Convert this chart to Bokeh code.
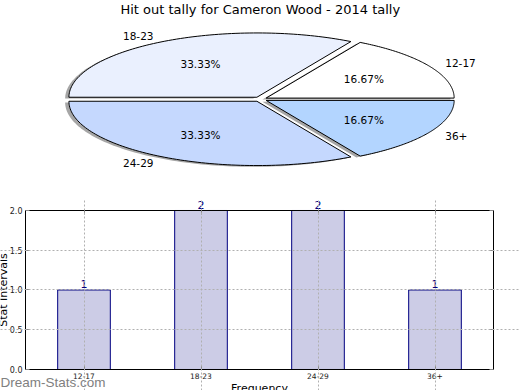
import numpy as np
from bokeh.plotting import figure
from bokeh.models import (Range1d, ColumnDataSource, LabelSet, Label, FixedTicker,
                          NumeralTickFormatter, LinearAxis, CustomJSTickFormatter)
from bokeh.layouts import column
from bokeh.core.properties import value
from bokeh.embed import file_html
from bokeh.resources import INLINE

# ---------------- data ----------------
title_text = "Hit out tally for Cameron Wood - 2014 tally"
categories = ["12-17", "18-23", "24-29", "36+"]
tallies = [1, 2, 2, 1]
pie_colors = ["#ffffff", "#eaf0fe", "#c5d8fe", "#b3d5ff"]
y_ticks = [0.0, 0.5, 1.0, 1.5, 2.0]
x_label = "Frequency"
y_label = "Stat Intervals"
watermark = "Dream-Stats.com"

FONT = "DejaVu Sans"
EXPLODE = 0.036
SHADOW_DX, SHADOW_DY = -0.02, -0.02

total = float(sum(tallies))
fracs = [t / total for t in tallies]
starts = np.cumsum([0.0] + fracs[:-1]) * 2 * np.pi
ends = starts + np.array(fracs) * 2 * np.pi

# ---------------- pie ----------------
p1 = figure(width=520, height=198, x_range=Range1d(-1.3819, 1.3840),
            y_range=Range1d(-1.5436, 1.5358), output_backend="svg",
            toolbar_location=None, min_border=0)
p1.axis.visible = False
p1.grid.visible = False
p1.outline_line_color = None

wxs, wys, sxs, sys_ = [], [], [], []
lx, ly, ltxt, lalign = [], [], [], []
px, py, ptxt = [], [], []
for cat, frac, a0, a1 in zip(categories, fracs, starts, ends):
    mid = 0.5 * (a0 + a1)
    ox, oy = EXPLODE * np.cos(mid), EXPLODE * np.sin(mid)
    th = np.linspace(a0, a1, 90)
    xs = np.concatenate([[ox], ox + np.cos(th), [ox]])
    ys = np.concatenate([[oy], oy + np.sin(th), [oy]])
    wxs.append(list(xs)); wys.append(list(ys))
    sxs.append(list(xs + SHADOW_DX)); sys_.append(list(ys + SHADOW_DY))
    xt = ox + 1.1 * np.cos(mid)
    lx.append(xt); ly.append(oy + 1.1 * np.sin(mid)); ltxt.append(cat)
    lalign.append("left" if xt > 0 else "right")
    px.append(ox + 0.6 * np.cos(mid)); py.append(oy + 0.6 * np.sin(mid))
    ptxt.append("%.2f%%" % (frac * 100))

p1.patches(sxs, sys_, fill_color="#4d4d4d", fill_alpha=0.5, line_color=None)
p1.patches(wxs, wys, fill_color=pie_colors, line_color="black", line_width=1)
p1.text(x=lx, y=ly, text=ltxt, text_align=lalign, text_baseline="middle",
        text_font=value(FONT), text_font_size="10.5px", text_color="black")
p1.text(x=px, y=py, text=ptxt, text_align="center", text_baseline="middle",
        text_font=value(FONT), text_font_size="10.5px", text_color="black")
p1.add_layout(Label(x=0.0, y=1.5124, text=title_text, text_align="center",
                    text_baseline="top", text_font=FONT, text_font_size="13px",
                    text_color="black"))

# ---------------- bars ----------------
n = len(categories)
y_max = max(y_ticks)
x_centers = [i + 0.5 for i in range(n)]
p2 = figure(width=520, height=192, x_range=Range1d(-0.21368, n + 0.23077),
            y_range=Range1d(-0.2642, 2.1509), output_backend="svg",
            toolbar_location=None, min_border=0)
p2.outline_line_color = None
src = ColumnDataSource(dict(x=x_centers, val=tallies, txt=[str(v) for v in tallies]))
p2.vbar(x="x", top="val", width=0.45, source=src, fill_color="#cccce6",
        line_color="#000080", line_width=1)

for g, b in ((p2.xgrid[0], (0, y_max)), (p2.ygrid[0], (0, n))):
    g.grid_line_color = "#b0b0b0"
    g.grid_line_dash = "2 2"
    g.grid_line_width = 1
    g.level = "overlay"
    g.bounds = b
p2.xgrid[0].ticker = FixedTicker(ticks=x_centers)
p2.ygrid[0].ticker = FixedTicker(ticks=[t for t in y_ticks if 0 < t < y_max])

p2.add_layout(LabelSet(x="x", y="val", text="txt", source=src, text_align="center",
                       text_baseline="alphabetic", text_color="#000080",
                       text_font=value(FONT), text_font_size="11px", y_offset=1.5))

xa = p2.xaxis[0]
xa.ticker = FixedTicker(ticks=x_centers)
xa.major_label_overrides = {c: lab for c, lab in zip(x_centers, categories)}
xa.fixed_location = 0
xa.bounds = (0, n)
xa.major_label_text_font_size = "7.5px"
xa.major_label_standoff = 4

ya = p2.yaxis[0]
ya.ticker = FixedTicker(ticks=y_ticks)
ya.formatter = NumeralTickFormatter(format="0.0")
ya.fixed_location = 0
ya.bounds = (0, y_max)
ya.major_label_text_font_size = "8px"
ya.major_label_standoff = 3

blank = "return ''"
top_ax = LinearAxis(ticker=FixedTicker(ticks=x_centers), fixed_location=y_max, bounds=(0, n),
                    formatter=CustomJSTickFormatter(code=blank))
right_ax = LinearAxis(ticker=FixedTicker(ticks=y_ticks), fixed_location=n, bounds=(0, y_max),
                      formatter=CustomJSTickFormatter(code=blank))
p2.add_layout(top_ax, "above")
p2.add_layout(right_ax, "right")

for ax in (xa, ya, top_ax, right_ax):
    ax.major_tick_in = 4
    ax.major_tick_out = 0
    ax.minor_tick_in = 0
    ax.minor_tick_out = 0
    ax.major_tick_line_color = "#888888"
    ax.axis_line_color = "black"
    ax.axis_line_width = 1
    ax.major_label_text_font = FONT
    ax.major_label_text_color = "#222222"

p2.add_layout(Label(x=n / 2, y=-0.1635, text=x_label, text_align="center",
                    text_baseline="top", text_font=FONT, text_font_size="11px",
                    text_color="black"))
p2.add_layout(Label(x=-0.1838, y=1.0, text=y_label, angle=np.pi / 2, text_align="center",
                    text_baseline="alphabetic", text_font=FONT, text_font_size="11px",
                    text_color="black"))
p2.add_layout(Label(x=-0.2137, y=-0.1635, text=watermark, text_font="Liberation Sans",
                    text_font_size="13.5px", text_color="#808080",
                    text_baseline="alphabetic"))

layout = column(p1, p2, spacing=0)
open("out.html", "w").write(file_html(layout, INLINE))
